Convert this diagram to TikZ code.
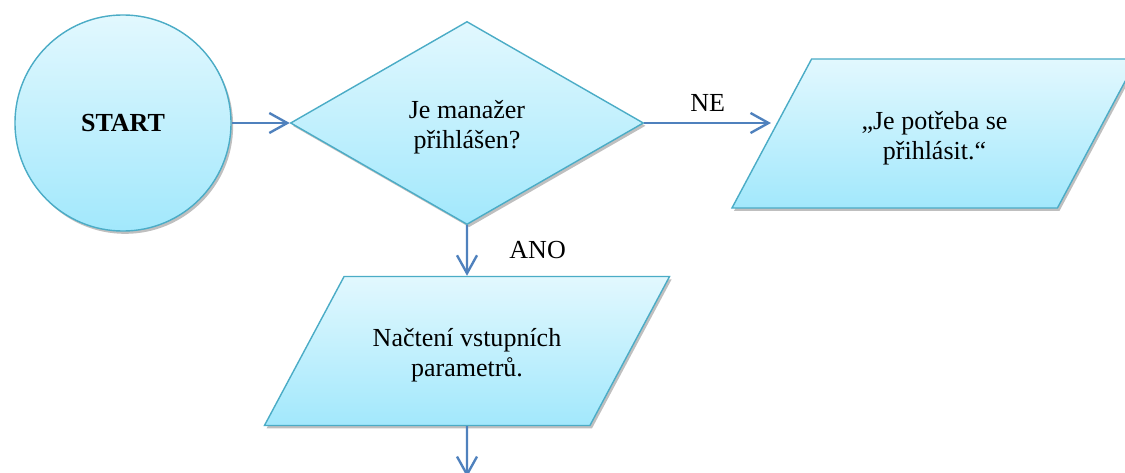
\documentclass[tikz,border=0pt]{standalone}
\usepackage{fontspec}
\setmainfont{Liberation Serif}
\usetikzlibrary{shapes.geometric, positioning, arrows.meta, shadows}

\definecolor{boxline}{HTML}{4BACC6}
\definecolor{arrowblue}{HTML}{4F81BD}
\definecolor{filltop}{HTML}{E2F8FE}
\definecolor{fillbot}{HTML}{A2E8FC}

\newcommand{\topstrut}{\rule{0pt}{19pt}}

\tikzset{
  flowbox/.style={draw=boxline, line width=1pt, top color=filltop, bottom color=fillbot,
    align=center, font=\fontsize{18.5}{21.3}\selectfont,
    drop shadow={shadow xshift=1.5pt, shadow yshift=-2pt, fill=black, opacity=0.25}},
  startnode/.style={flowbox, circle, minimum size=5.4cm, inner sep=0pt,
    font=\fontsize{18.5}{21.3}\selectfont\bfseries},
  decnode/.style={flowbox, diamond, minimum width=8.825cm, minimum height=5.075cm, inner sep=0pt},
  ionode/.style={flowbox, trapezium, trapezium left angle=61.8, trapezium right angle=118.2,
    trapezium stretches body=true, minimum width=10.125cm, minimum height=3.725cm,
    inner xsep=0pt, inner ysep=30.7pt},
  flowarrow/.style={draw=arrowblue, line width=1.7pt, -{Straight Barb[length=0.45cm, width=0.5cm]}},
  flowlabel/.style={font=\fontsize{18.5}{21.3}\selectfont}
}

\begin{document}
\begin{tikzpicture}[x=0.025cm, y=-0.025cm]
  \useasboundingbox (0,0) rectangle (1125,473);
  \clip (0,0) rectangle (1125,473);
  % Nodes
  \node[startnode] (start) at (123,123) {START};
  \node[decnode] (dec) at (467,123) {\topstrut Je manažer\\přihlášen?};
  \node[ionode] (msg) at (934.5,133.5) {\topstrut„Je potřeba se\\přihlásit.“};
  \node[ionode] (load) at (467,351) {\topstrut Načtení vstupních\\parametrů.};
  \coordinate (next) at (467,477);
  % Connectors
  \draw[flowarrow] (start) -- (dec);
  \draw[flowarrow] (dec.east) -- node[flowlabel, above=4pt]{NE} (dec.east -| msg.west);
  \draw[flowarrow] (dec.south) -- node[flowlabel, right=26pt]{ANO} (load.north);
  \draw[flowarrow] (load.south) -- (next);
\end{tikzpicture}
\end{document}
